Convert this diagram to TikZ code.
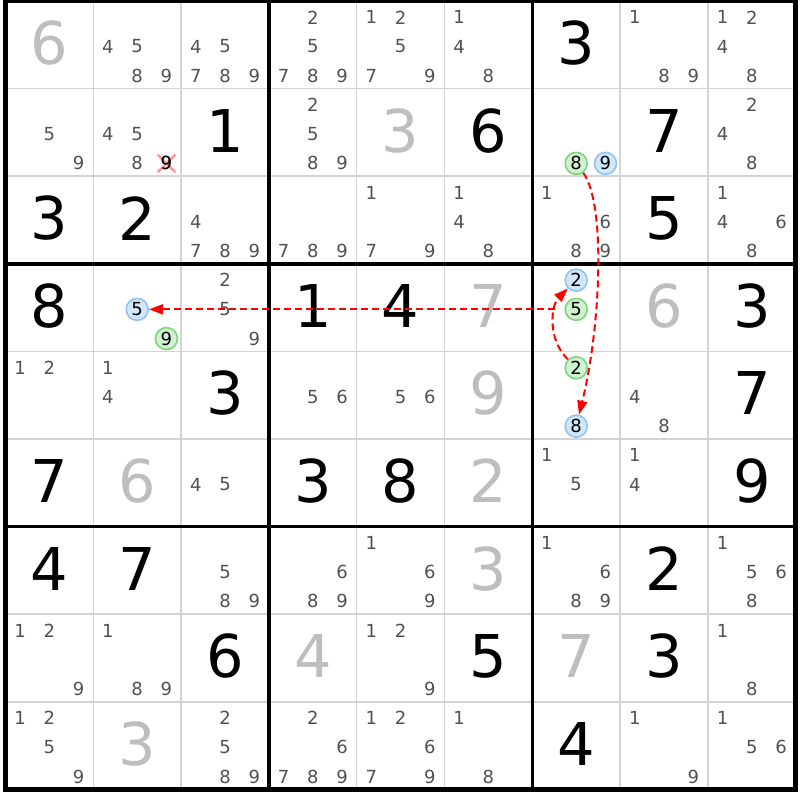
\documentclass[tikz,border=0pt]{standalone}
\usepackage{fontspec}
\setmainfont{DejaVu Sans}
\usetikzlibrary{arrows.meta}
\definecolor{candgray}{RGB}{80,80,86}
\definecolor{givengray}{RGB}{190,190,190}
\definecolor{gridgray}{RGB}{212,212,212}
\definecolor{onfill}{RGB}{208,242,208}
\definecolor{onedge}{RGB}{124,212,124}
\definecolor{offfill}{RGB}{210,230,252}
\definecolor{offedge}{RGB}{146,194,242}
\definecolor{linkred}{RGB}{255,0,0}
\begin{document}
\begin{tikzpicture}[x=87.8pt,y=-87.6pt,
  cand/.style={font=\fontsize{18}{18}\selectfont,text=candgray,inner sep=0pt},
  oncand/.style={cand,text=black,circle,draw=onedge,fill=onfill,line width=1.6pt,minimum size=22pt},
  offcand/.style={cand,text=black,circle,draw=offedge,fill=offfill,line width=1.6pt,minimum size=22pt},
  given/.style={font=\fontsize{59}{59}\selectfont,text=givengray,inner sep=0pt},
  solved/.style={given,text=black},
  thingrid/.style={gridgray,line width=1.5pt},
  boxline/.style={black,line width=3.5pt},
  delmark/.style={red!75,opacity=0.55,line width=2.5pt},
  link/.style={linkred,line width=2pt,dash pattern=on 7pt off 4pt,-{Triangle[length=14pt,width=10pt]}}]
  \useasboundingbox (-0.0626,-0.0114) rectangle (9.049,9.121);
  \foreach \k in {1,2,4,5,7,8}
    \draw[thingrid] (\k,0) -- (\k,9) (0,\k) -- (9,\k);
  \foreach \k in {3,6}
    \draw[boxline] (\k,0) -- (\k,9) (0,\k) -- (9,\k);
  \draw[boxline,line width=4.5pt] (0,0) rectangle (9,9);
  \foreach \r/\c/\d in {1/1/6,2/5/3,4/6/7,4/8/6,5/6/9,6/2/6,6/6/2,7/6/3,8/4/4,8/7/7,9/2/3}
    \node[given] (g\r\c) at (\c-0.5,\r-0.52) {\d};
  \foreach \r/\c/\d in {1/7/3,2/3/1,2/6/6,2/8/7,3/1/3,3/2/2,3/8/5,4/1/8,4/4/1,4/5/4,4/9/3,
      5/3/3,5/9/7,6/1/7,6/4/3,6/5/8,6/9/9,7/1/4,7/2/7,7/8/2,8/3/6,8/6/5,8/8/3,9/7/4}
    \node[solved] (s\r\c) at (\c-0.5,\r-0.52) {\d};
  \foreach \r/\c/\lst in {1/2/{4,5,8,9},1/3/{4,5,7,8,9},1/4/{2,5,7,8,9},1/5/{1,2,5,7,9},
      1/6/{1,4,8},1/8/{1,8,9},1/9/{1,2,4,8},2/1/{5,9},2/2/{4,5,8},2/4/{2,5,8,9},2/9/{2,4,8},
      3/3/{4,7,8,9},3/4/{7,8,9},3/5/{1,7,9},3/6/{1,4,8},3/7/{1,6,8,9},3/9/{1,4,6,8},
      4/3/{2,5,9},5/1/{1,2},5/2/{1,4},5/4/{5,6},5/5/{5,6},5/8/{4,8},6/3/{4,5},6/7/{1,5},
      6/8/{1,4},7/3/{5,8,9},7/4/{6,8,9},7/5/{1,6,9},7/7/{1,6,8,9},7/9/{1,5,6,8},
      8/1/{1,2,9},8/2/{1,8,9},8/5/{1,2,9},8/9/{1,8},9/1/{1,2,5,9},9/3/{2,5,8,9},
      9/4/{2,6,7,8,9},9/5/{1,2,6,7,9},9/6/{1,8},9/8/{1,9},9/9/{1,5,6}}
    \foreach \d in \lst {
      \pgfmathtruncatemacro\j{mod(\d-1,3)}
      \pgfmathtruncatemacro\i{div(\d-1,3)}
      \node[cand] (c\r\c\d) at ({\c-0.5+(\j-1)/3},{\r-0.5+(\i-1)/3+0.02}) {\d};
    }
  \coordinate (del) at (1.5+1/3,1.5+1/3+0.02);
  \draw[delmark] (del) +(-0.1,-0.1) -- +(0.1,0.1) +(-0.1,0.1) -- +(0.1,-0.1);
  \foreach \r/\c/\d/\kind in {2/2/9/cand,2/7/8/oncand,2/7/9/offcand,4/2/5/offcand,4/2/9/oncand,
      4/7/2/offcand,4/7/5/oncand,5/7/2/oncand,5/7/8/offcand} {
    \pgfmathtruncatemacro\j{mod(\d-1,3)}
    \pgfmathtruncatemacro\i{div(\d-1,3)}
    \node[\kind] (c\r\c\d) at ({\c-0.5+(\j-1)/3},{\r-0.5+(\i-1)/3+0.02}) {\d};
  }
  \node[cand,text=black] at (c229) {9};
  \draw[link,shorten <=9pt] (c475) -- (c425);
  \draw[link] (c278) .. controls +(0.34,0.46) and +(0.28,-1.14) .. (c578);
  \draw[link] (c572) .. controls +(-0.34,-0.34) and +(-0.28,0.28) .. (c472);
\end{tikzpicture}
\end{document}
